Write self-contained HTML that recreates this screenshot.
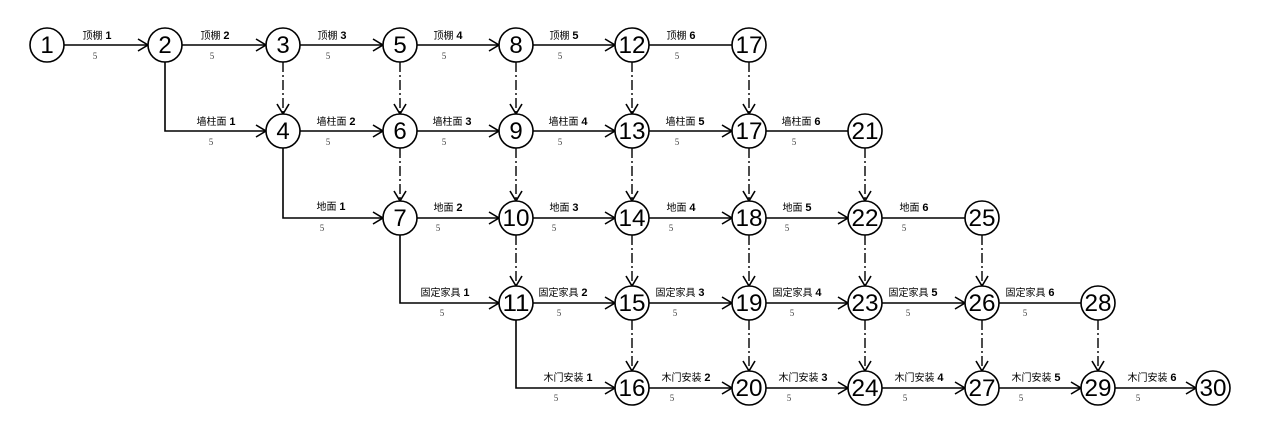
<!DOCTYPE html>
<html><head><meta charset="utf-8"><style>
html,body{margin:0;padding:0;background:#fff;}
svg{display:block}
.n{font-family:"Liberation Sans","DejaVu Sans",sans-serif;font-size:24px;text-anchor:middle;fill:#000}
.l{font-family:"Liberation Sans","Noto Sans CJK SC",sans-serif;font-size:10px;text-anchor:middle;fill:#000}
.l tspan{font-weight:bold;font-size:11px}
.d{font-family:"Liberation Serif",serif;font-size:9px;text-anchor:middle;fill:#444}
line,path{stroke:#000;stroke-width:1.6;fill:none}
.dash{stroke-dasharray:10,3,2,3;stroke-width:1.4}
circle{fill:#fff;stroke:#000;stroke-width:1.6}
</style></head><body>
<svg width="1266" height="437" viewBox="0 0 1266 437">
<defs><marker id="a" markerWidth="14" markerHeight="14" refX="12" refY="7" orient="auto" markerUnits="userSpaceOnUse"><path d="M2,1 L12,7 L2,13" style="stroke:#000;stroke-width:1.6;fill:none"/></marker></defs>

<line x1="64" y1="45" x2="148" y2="45" marker-end="url(#a)"/>
<line x1="182" y1="45" x2="266" y2="45" marker-end="url(#a)"/>
<line x1="300" y1="45" x2="383" y2="45" marker-end="url(#a)"/>
<line x1="417" y1="45" x2="499" y2="45" marker-end="url(#a)"/>
<line x1="533" y1="45" x2="615" y2="45" marker-end="url(#a)"/>
<line x1="649" y1="45" x2="732" y2="45"/>
<path d="M165,62 V131 H266" marker-end="url(#a)"/>
<line x1="300" y1="131" x2="383" y2="131" marker-end="url(#a)"/>
<line x1="417" y1="131" x2="499" y2="131" marker-end="url(#a)"/>
<line x1="533" y1="131" x2="615" y2="131" marker-end="url(#a)"/>
<line x1="649" y1="131" x2="732" y2="131" marker-end="url(#a)"/>
<line x1="766" y1="131" x2="848" y2="131"/>
<path d="M283,148 V218 H383" marker-end="url(#a)"/>
<line x1="417" y1="218" x2="499" y2="218" marker-end="url(#a)"/>
<line x1="533" y1="218" x2="615" y2="218" marker-end="url(#a)"/>
<line x1="649" y1="218" x2="732" y2="218" marker-end="url(#a)"/>
<line x1="766" y1="218" x2="848" y2="218" marker-end="url(#a)"/>
<line x1="882" y1="218" x2="965" y2="218"/>
<path d="M400,235 V303 H499" marker-end="url(#a)"/>
<line x1="533" y1="303" x2="615" y2="303" marker-end="url(#a)"/>
<line x1="649" y1="303" x2="732" y2="303" marker-end="url(#a)"/>
<line x1="766" y1="303" x2="848" y2="303" marker-end="url(#a)"/>
<line x1="882" y1="303" x2="965" y2="303" marker-end="url(#a)"/>
<line x1="999" y1="303" x2="1081" y2="303"/>
<path d="M516,320 V388 H615" marker-end="url(#a)"/>
<line x1="649" y1="388" x2="732" y2="388" marker-end="url(#a)"/>
<line x1="766" y1="388" x2="848" y2="388" marker-end="url(#a)"/>
<line x1="882" y1="388" x2="965" y2="388" marker-end="url(#a)"/>
<line x1="999" y1="388" x2="1081" y2="388" marker-end="url(#a)"/>
<line x1="1115" y1="388" x2="1196" y2="388" marker-end="url(#a)"/>

<g>
<line class="dash" x1="283" y1="62" x2="283" y2="114" marker-end="url(#a)"/>
<line class="dash" x1="400" y1="62" x2="400" y2="114" marker-end="url(#a)"/>
<line class="dash" x1="516" y1="62" x2="516" y2="114" marker-end="url(#a)"/>
<line class="dash" x1="632" y1="62" x2="632" y2="114" marker-end="url(#a)"/>
<line class="dash" x1="749" y1="62" x2="749" y2="114" marker-end="url(#a)"/>
<line class="dash" x1="400" y1="148" x2="400" y2="201" marker-end="url(#a)"/>
<line class="dash" x1="516" y1="148" x2="516" y2="201" marker-end="url(#a)"/>
<line class="dash" x1="632" y1="148" x2="632" y2="201" marker-end="url(#a)"/>
<line class="dash" x1="749" y1="148" x2="749" y2="201" marker-end="url(#a)"/>
<line class="dash" x1="865" y1="148" x2="865" y2="201" marker-end="url(#a)"/>
<line class="dash" x1="516" y1="235" x2="516" y2="286" marker-end="url(#a)"/>
<line class="dash" x1="632" y1="235" x2="632" y2="286" marker-end="url(#a)"/>
<line class="dash" x1="749" y1="235" x2="749" y2="286" marker-end="url(#a)"/>
<line class="dash" x1="865" y1="235" x2="865" y2="286" marker-end="url(#a)"/>
<line class="dash" x1="982" y1="235" x2="982" y2="286" marker-end="url(#a)"/>
<line class="dash" x1="632" y1="320" x2="632" y2="371" marker-end="url(#a)"/>
<line class="dash" x1="749" y1="320" x2="749" y2="371" marker-end="url(#a)"/>
<line class="dash" x1="865" y1="320" x2="865" y2="371" marker-end="url(#a)"/>
<line class="dash" x1="982" y1="320" x2="982" y2="371" marker-end="url(#a)"/>
<line class="dash" x1="1098" y1="320" x2="1098" y2="371" marker-end="url(#a)"/>
</g>

<g>
<circle cx="47" cy="45" r="17"/><text class="n" x="47" y="53">1</text>
<circle cx="165" cy="45" r="17"/><text class="n" x="165" y="53">2</text>
<circle cx="283" cy="45" r="17"/><text class="n" x="283" y="53">3</text>
<circle cx="400" cy="45" r="17"/><text class="n" x="400" y="53">5</text>
<circle cx="516" cy="45" r="17"/><text class="n" x="516" y="53">8</text>
<circle cx="632" cy="45" r="17"/><text class="n" x="632" y="53" textLength="27" lengthAdjust="spacingAndGlyphs">12</text>
<circle cx="749" cy="45" r="17"/><text class="n" x="749" y="53" textLength="27" lengthAdjust="spacingAndGlyphs">17</text>

<circle cx="283" cy="131" r="17"/><text class="n" x="283" y="139">4</text>
<circle cx="400" cy="131" r="17"/><text class="n" x="400" y="139">6</text>
<circle cx="516" cy="131" r="17"/><text class="n" x="516" y="139">9</text>
<circle cx="632" cy="131" r="17"/><text class="n" x="632" y="139" textLength="27" lengthAdjust="spacingAndGlyphs">13</text>
<circle cx="749" cy="131" r="17"/><text class="n" x="749" y="139" textLength="27" lengthAdjust="spacingAndGlyphs">17</text>
<circle cx="865" cy="131" r="17"/><text class="n" x="865" y="139" textLength="27" lengthAdjust="spacingAndGlyphs">21</text>

<circle cx="400" cy="218" r="17"/><text class="n" x="400" y="226">7</text>
<circle cx="516" cy="218" r="17"/><text class="n" x="516" y="226" textLength="27" lengthAdjust="spacingAndGlyphs">10</text>
<circle cx="632" cy="218" r="17"/><text class="n" x="632" y="226" textLength="27" lengthAdjust="spacingAndGlyphs">14</text>
<circle cx="749" cy="218" r="17"/><text class="n" x="749" y="226" textLength="27" lengthAdjust="spacingAndGlyphs">18</text>
<circle cx="865" cy="218" r="17"/><text class="n" x="865" y="226" textLength="27" lengthAdjust="spacingAndGlyphs">22</text>
<circle cx="982" cy="218" r="17"/><text class="n" x="982" y="226" textLength="27" lengthAdjust="spacingAndGlyphs">25</text>

<circle cx="516" cy="303" r="17"/><text class="n" x="516" y="311" textLength="27" lengthAdjust="spacingAndGlyphs">11</text>
<circle cx="632" cy="303" r="17"/><text class="n" x="632" y="311" textLength="27" lengthAdjust="spacingAndGlyphs">15</text>
<circle cx="749" cy="303" r="17"/><text class="n" x="749" y="311" textLength="27" lengthAdjust="spacingAndGlyphs">19</text>
<circle cx="865" cy="303" r="17"/><text class="n" x="865" y="311" textLength="27" lengthAdjust="spacingAndGlyphs">23</text>
<circle cx="982" cy="303" r="17"/><text class="n" x="982" y="311" textLength="27" lengthAdjust="spacingAndGlyphs">26</text>
<circle cx="1098" cy="303" r="17"/><text class="n" x="1098" y="311" textLength="27" lengthAdjust="spacingAndGlyphs">28</text>

<circle cx="632" cy="388" r="17"/><text class="n" x="632" y="396" textLength="27" lengthAdjust="spacingAndGlyphs">16</text>
<circle cx="749" cy="388" r="17"/><text class="n" x="749" y="396" textLength="27" lengthAdjust="spacingAndGlyphs">20</text>
<circle cx="865" cy="388" r="17"/><text class="n" x="865" y="396" textLength="27" lengthAdjust="spacingAndGlyphs">24</text>
<circle cx="982" cy="388" r="17"/><text class="n" x="982" y="396" textLength="27" lengthAdjust="spacingAndGlyphs">27</text>
<circle cx="1098" cy="388" r="17"/><text class="n" x="1098" y="396" textLength="27" lengthAdjust="spacingAndGlyphs">29</text>
<circle cx="1213" cy="388" r="17"/><text class="n" x="1213" y="396" textLength="27" lengthAdjust="spacingAndGlyphs">30</text>
</g>

<text class="l" x="97" y="39">顶棚 <tspan>1</tspan></text><text class="d" x="95" y="59">5</text>
<text class="l" x="215" y="39">顶棚 <tspan>2</tspan></text><text class="d" x="212" y="59">5</text>
<text class="l" x="332" y="39">顶棚 <tspan>3</tspan></text><text class="d" x="328" y="59">5</text>
<text class="l" x="448" y="39">顶棚 <tspan>4</tspan></text><text class="d" x="444" y="59">5</text>
<text class="l" x="564" y="39">顶棚 <tspan>5</tspan></text><text class="d" x="560" y="59">5</text>
<text class="l" x="681" y="39">顶棚 <tspan>6</tspan></text><text class="d" x="677" y="59">5</text>

<text class="l" x="216" y="125">墙柱面 <tspan>1</tspan></text><text class="d" x="211" y="145">5</text>
<text class="l" x="336" y="125">墙柱面 <tspan>2</tspan></text><text class="d" x="328" y="145">5</text>
<text class="l" x="452" y="125">墙柱面 <tspan>3</tspan></text><text class="d" x="444" y="145">5</text>
<text class="l" x="568" y="125">墙柱面 <tspan>4</tspan></text><text class="d" x="560" y="145">5</text>
<text class="l" x="685" y="125">墙柱面 <tspan>5</tspan></text><text class="d" x="677" y="145">5</text>
<text class="l" x="801" y="125">墙柱面 <tspan>6</tspan></text><text class="d" x="794" y="145">5</text>

<text class="l" x="331" y="210">地面 <tspan>1</tspan></text><text class="d" x="322" y="231">5</text>
<text class="l" x="448" y="211">地面 <tspan>2</tspan></text><text class="d" x="438" y="231">5</text>
<text class="l" x="564" y="211">地面 <tspan>3</tspan></text><text class="d" x="554" y="231">5</text>
<text class="l" x="681" y="211">地面 <tspan>4</tspan></text><text class="d" x="671" y="231">5</text>
<text class="l" x="797" y="211">地面 <tspan>5</tspan></text><text class="d" x="787" y="231">5</text>
<text class="l" x="914" y="211">地面 <tspan>6</tspan></text><text class="d" x="904" y="231">5</text>

<text class="l" x="445" y="296">固定家具 <tspan>1</tspan></text><text class="d" x="442" y="316">5</text>
<text class="l" x="563" y="296">固定家具 <tspan>2</tspan></text><text class="d" x="559" y="316">5</text>
<text class="l" x="680" y="296">固定家具 <tspan>3</tspan></text><text class="d" x="675" y="316">5</text>
<text class="l" x="797" y="296">固定家具 <tspan>4</tspan></text><text class="d" x="792" y="316">5</text>
<text class="l" x="913" y="296">固定家具 <tspan>5</tspan></text><text class="d" x="908" y="316">5</text>
<text class="l" x="1030" y="296">固定家具 <tspan>6</tspan></text><text class="d" x="1025" y="316">5</text>

<text class="l" x="568" y="381">木门安装 <tspan>1</tspan></text><text class="d" x="556" y="401">5</text>
<text class="l" x="686" y="381">木门安装 <tspan>2</tspan></text><text class="d" x="672" y="401">5</text>
<text class="l" x="803" y="381">木门安装 <tspan>3</tspan></text><text class="d" x="789" y="401">5</text>
<text class="l" x="919" y="381">木门安装 <tspan>4</tspan></text><text class="d" x="905" y="401">5</text>
<text class="l" x="1036" y="381">木门安装 <tspan>5</tspan></text><text class="d" x="1021" y="401">5</text>
<text class="l" x="1152" y="381">木门安装 <tspan>6</tspan></text><text class="d" x="1138" y="401">5</text>
</svg>
</body></html>
